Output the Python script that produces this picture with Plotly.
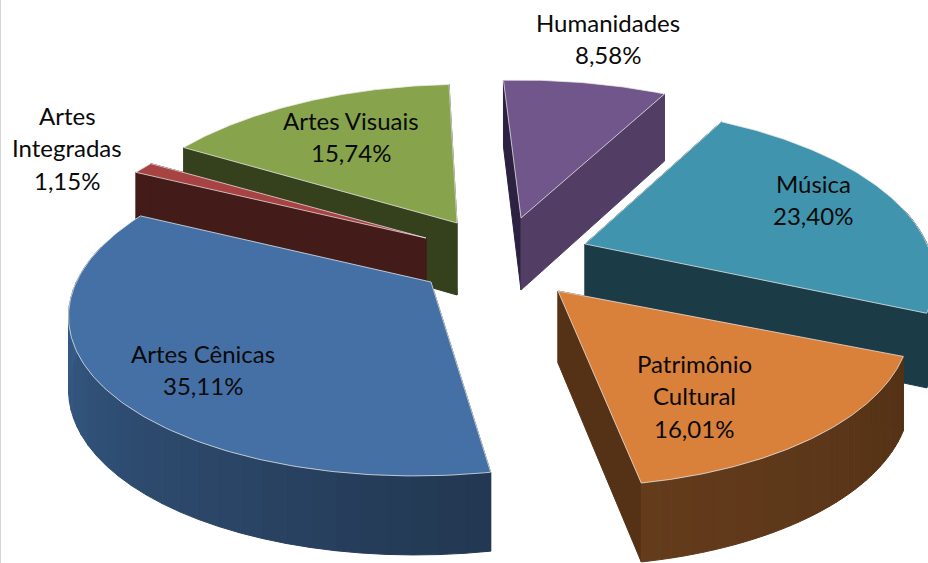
import numpy as np
import plotly.graph_objects as go

categories = ["Humanidades", "Música", "Patrimônio Cultural", "Artes Cênicas", "Artes Integradas", "Artes Visuais"]
values = [8.58, 23.40, 16.01, 35.11, 1.15, 15.74]
label_lines = [["Humanidades"], ["Música"], ["Patrimônio", "Cultural"], ["Artes Cênicas"], ["Artes", "Integradas"], ["Artes Visuais"]]

# layout / style, kept apart from the data
apex = [(521, 218), (585, 244), (558, 291), (431, 282), (426, 238), (457, 223)]
scale_x = [0.99, 0.95, 0.96, 0.985, 0.985, 0.97]
scale_y = [1.03, 1.00, 0.96, 0.96, 1.00, 1.03]
turn_deg = [0.0, 1.5, 0.0, 0.0, 0.0, 0.0]
top_col = ["#71568C", "#4094AD", "#D9803B", "#4570A6", "#A84343", "#87A44D"]
face_start = ["#2C2140", "#1B3C47", "#553216", "#233852", "#431B18", "#35401D"]
face_end = ["#523E64", "#1B3C47", "#553216", "#233852", "#431B18", "#35401D"]
wall_a = ["#523E64", "#1B3C47", "#553216", "#233852", "#431B18", "#35401D"]
wall_b = ["#523E64", "#1B3C47", "#643C1C", "#3C6698", "#431B18", "#35401D"]
label_xy = [(608, 22), (813, 183), (694, 363), (203, 353), (67, 115), (351, 120)]
draw_order = [5, 4, 0, 1, 2, 3]
START_DEG, R0, PERSP, SQUASH, DEPTH = -3.0, 360.0, 0.17, 0.45, 72.0
CX, CY = 510.0, 250.0
LINE_H = 32.5
BANDS = 36


def hex2rgb(h):
    return np.array([int(h[i:i + 2], 16) for i in (1, 3, 5)], float)


def mix(a, b, t):
    c = hex2rgb(a) * (1 - t) + hex2rgb(b) * t
    return f"rgb({c[0]:.0f},{c[1]:.0f},{c[2]:.0f})"


def project(i, th):
    cos, sin = np.cos(th), np.sin(th)
    f = 1 / (1 + PERSP * cos)
    ax, ay = apex[i]
    x = ax + R0 * scale_x[i] * sin * f + (ax - CX) * (f - 1)
    y = ay - R0 * scale_y[i] * cos * SQUASH * f + (ay - CY) * (f - 1)
    return x, y, DEPTH * np.sqrt(f)


def poly(xs, ys, fill, line=None, width=1):
    xs, ys = list(xs), list(ys)
    return go.Scatter(x=xs + xs[:1], y=ys + ys[:1], mode="lines", fill="toself", fillcolor=fill,
                      line=dict(color=line or fill, width=width), hoverinfo="skip", showlegend=False)


fig = go.Figure()
edges = np.radians(START_DEG + 360 * np.cumsum([0] + values) / sum(values))

for i in draw_order:
    th = np.linspace(edges[i], edges[i + 1], 4 * BANDS + 1) + np.radians(turn_deg[i])
    x, y, d = project(i, th)
    ax, ay = apex[i]
    ad = DEPTH
    # cut faces
    fig.add_trace(poly([ax, x[0], x[0], ax], [ay, y[0], y[0] + d[0], ay + ad], face_start[i]))
    fig.add_trace(poly([ax, x[-1], x[-1], ax], [ay, y[-1], y[-1] + d[-1], ay + ad], face_end[i]))
    # outer wall, in bands so that the shade can change along it
    front = np.where(np.cos(th) < 0.22)[0]
    for b in np.array_split(front, BANDS):
        if len(b) == 0:
            continue
        k0, k1 = b[0], min(b[-1] + 1, len(th) - 1)
        if k1 <= k0:
            continue
        xs = np.r_[x[k0:k1 + 1], x[k0:k1 + 1][::-1]]
        ys = np.r_[y[k0:k1 + 1], (y + d)[k0:k1 + 1][::-1]]
        c = mix(wall_a[i], wall_b[i], k0 / (len(th) - 1))
        fig.add_trace(poly(xs, ys, c))
    # top
    fig.add_trace(poly(np.r_[ax, x], np.r_[ay, y], top_col[i], "rgba(235,235,235,0.75)", 1))

for i, lines in enumerate(label_lines):
    pct = f"{values[i]:.2f}%".replace(".", ",")
    lx, ly = label_xy[i]
    for n, t in enumerate(lines + [pct]):
        fig.add_annotation(x=lx, y=ly + n * LINE_H, text=t, showarrow=False, xref="x", yref="y",
                           xanchor="center", yanchor="middle",
                           font=dict(family="Lato, Open Sans, sans-serif", size=24, color="#0a0a0a"))

fig.add_shape(type="line", x0=0.5, x1=0.5, y0=0, y1=563, xref="x", yref="y", line=dict(color="#d4d4d4", width=1))
fig.update_layout(width=928, height=563, margin=dict(l=0, r=0, t=0, b=0), showlegend=False,
                  paper_bgcolor="white", plot_bgcolor="white",
                  xaxis=dict(range=[0, 928], visible=False, fixedrange=True),
                  yaxis=dict(range=[563, 0], visible=False, fixedrange=True))
fig.write_html("out.html", post_script="document.body.style.margin='0';document.documentElement.style.overflow='hidden';",
               config={"displayModeBar": False})
